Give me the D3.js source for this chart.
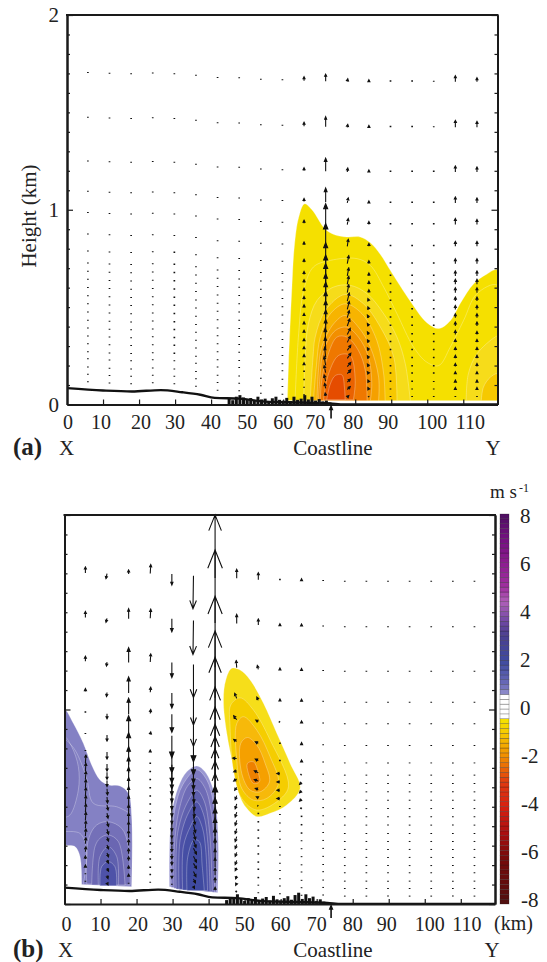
<!DOCTYPE html>
<html>
<head>
<meta charset="utf-8">
<title>Wind section</title>
<script src="https://cdn.jsdelivr.net/npm/d3@7"></script>
<style>
body{margin:0;background:#fff;}
text{font-family:"Liberation Serif",serif;fill:#222;}
</style>
</head>
<body>
<svg id="chart" width="547" height="962"></svg>
<script>
// arrow columns (km along X-Y) and model levels (km)
const columnKm = [5.8,11.8,17.8,23.8,29.8,35.8,41.8,47.8,53.8,59.8,65.8,71.8,77.8,83.8,89.8,95.8,101.8,107.8,113.8];
const levelKm = [1.657,1.423,1.194,1.035,0.924,0.812,0.723,0.66,0.617,0.574,0.531,0.488,0.446,0.403,0.36,0.319,0.278,0.237,0.195,0.158,0.115,0.077,0.038];
const modelTop = 4;
const kmTicks = [0,10,20,30,40,50,60,70,80,90,100,110];
const heightMinor = [0.1,0.2,0.3,0.4,0.5,0.6,0.7,0.8,0.9,1.1,1.2,1.3,1.4,1.5,1.6,1.7,1.8,1.9];
const heightMajor = [0,1,2];

// terrain
const terrainKm = [0,10,18,26,32,37,41,48,55,65,73,77,119.5];
const terrainH = [0.084,0.072,0.067,0.074,0.063,0.05,0.034,0.03,0.015,0.01,0.005,0,0];
const canopyKm = [45,46,47,48,49,50,51,52,53,54,55,56,57,58,59,60,61,62,63,64,65,66,67,68,69,70,71,72,73];
const canopyA = [0.03,0.022,0.04,0.048,0.036,0.024,0.033,0.02,0.04,0.026,0.03,0.018,0.032,0.04,0.024,0.02,0.034,0.018,0.04,0.024,0.03,0.048,0.026,0.04,0.02,0.028,0.016,0.02,0.01];
const canopyB = [0.02,0.034,0.026,0.05,0.028,0.016,0.03,0.018,0.036,0.016,0.028,0.036,0.018,0.042,0.024,0.018,0.03,0.04,0.022,0.046,0.058,0.026,0.05,0.03,0.038,0.016,0.024,0.012,0.008];

// vertical and horizontal arrow components, one list per column
const wA = [
[1,1,1,1,1,1,1,1,1,1,1,1,1,1,1,1,1,1,1,1,1,1,1],
[1,1,1,1,1,1,1,1,1,1,1,1,1,1,1,1,1,1,1,1,1,1,1],
[1,1,1,1,1,1,1,1,1,1,1,1,1,1,1,1,1,1,1,1,1,1,1],
[1,1,1,1,1,1,1,1,1,1,1,1,1,1,1,1,1,1,1,1,1,1,1],
[1,1,1,1,1,1,1.5,1.5,1.5,1.5,1.5,1.5,1.5,1.5,1.5,1.5,1.5,1.5,1.5,1,1,1,1],
[1,1,1,1,1,1,1,1,1,1,1,1,1,1,1,1,1,1,1,1,1,1,1],
[1,1,1,1,1,1,1,1,1,1,1,1,1,1,1,1,1,1,1,1,1,1,1],
[1,1,1,1,1,1,1,1,1,1,1,1,1,1,1,1,1,1,1,1,1,1,1],
[1,1,1,1,1,1,1,1,1,1,1,1,1,1,1,1,1,1,1,1,1,1,1],
[1,1,1,1,1,1,1,1,1,1,1,1,1,1,1,1,1,1,1,1,1,1,1],
[4,4,3,3,3,3,3,3,3,3,3,3,2.5,2.5,2.5,2,2,2,2,1.5,1.5,1,1],
[7,10,13,14,20,22,20,20,20,18,18,17,16,15,14,13,12,10,9,7,6,5,3],
[3,3,4,5,6,7,8,8,8,8,8,8,7,7,6,6,5,5,4,4,3,3,1.5],
[2,2,2,2,3,3,3,3,3,3,2.5,2.5,2.5,2.5,2.5,2.5,2.5,2.5,2.5,2,2,2,1],
[1.5,1.5,1.5,1.5,1.5,1.5,1.5,1.5,1.5,1.5,1.5,1.5,1.5,1.5,1.5,1.5,1.5,1.5,1.5,1.5,1.5,1,1],
[1.5,1.5,1.5,1.5,1.5,1.5,1.5,1.5,1.5,1.5,1.5,1.5,1.5,1.5,1.5,1.5,1.5,1.5,1.5,1.5,1.5,1,1],
[1,1,1.5,1.5,1.5,1.5,1.5,1.5,1.5,1.5,1.5,1.5,1.5,1.5,1.5,1.5,1.5,1.5,1.5,1.5,1,1,1],
[6,7,6,6,6,5,5,5,5,5,4,4,4,4,4,3,3,3,3,2,2,2,1],
[4,6,5,5,5,5,5,5,5,5,4,4,4,4,3,3,3,3,3,2,2,2,1]
];
const uA = [
[0,0,0,0,0,0,0,0,0,0,0,0,0,0,0,0,0,0,0,0,0,0,0],
[0,0,0,0,0,0,0,0,0,0,0,0,0,0,0,0,0,0,0,0,0,0,0],
[0,0,0,0,0,0,0,0,0,0,0,0,0,0,0,0,0,0,0,0,0,0,0],
[0,0,0,0,0,0,0,0,0,0,0,0,0,0,0,0,0,0,0,0,0,0,0],
[0,0,0,0,0,0,0,0,0,0,0,0,0,0,0,0,0,0,0,0,0,0,0],
[0,0,0,0,0,0,0,0,0,0,0,0,0,0,0,0,0,0,0,0,0,0,0],
[0,0,0,0,0,0,0,0,0,0,0,0,0,0,0,0,0,0,0,0,0,0,0],
[0,0,0,0,0,0,0,0,0,0,0,0,0,0,0,0,0,0,0,0,0,0,0],
[0,0,0,0,0,0,0,0,0,0,0,0,0,0,0,0,0,0,0,0,0,0,0],
[0,0,0,0,0,0,0,0,0,0,0,0,0,0,0,0,0,0,0,0,0,0,0],
[0,0,0,0,0,0,0,0,0,0,0,0,0,0,0,0,0,0,0,0,0,0,0],
[0,0,0,0,0,0,0,0,0,0,0,0,0,0,0,-0.5,-0.5,-1,-1.5,-1.5,-1.5,-1,-0.5],
[0.5,0.5,0.5,1,1,1,1.5,1.5,1.5,1.5,2,2,2,2.5,3,3,3.5,3.5,3.5,3.5,3,3,1.5],
[0,0,0,0,0,0,0,0,0,0,-1,-1,-1.5,-1.5,-1.5,-1.5,-1.5,-1.5,-1.5,-1.5,-1,-1,-0.5],
[0,0,0,0,0,0,0,0,0,0,0,0,0,0,0,0,0,0,0,0,0,0,0],
[0,0,0,0,0,0,0,0,0,0,0,0,0,0,0,0,0,0,0,0,0,0,0],
[0,0,0,0,0,0,0,0,0,0,0,0,0,0,0,0,0,0,0,0,0,0,0],
[0,0,0,0,0,0,0,0,0,0,0,0,0,0,0,0,0,0,0,0,0,0,0],
[0,0,0,0,0,0,0,0,0,0,0,0,0,0,0,0,0,0,0,0,0,0,0]
];
const wB = [
[6,6,5,3,1.5,1,1,8,8,8,8,8,8,8,8,7,7,6,5,3,2,1,1],
[-5,-4,-4,-4,-5,-6,-7,-7,-7,-6,-6,-6,-5,-5,-5,-5,-4,-4,-4,-3,-3,-3,-2],
[4,10,15,16,16,20,20,18,16,14,12,11,10,9,9,8,7,6,5,4,3,2,1],
[9,9,8,5,4,3,2,1.5,1.5,1.5,1.5,1.5,1.5,1.5,1.5,1.5,1.5,1.5,1.5,1.5,1.5,1.5,1],
[-11,-13,-15,-15,-18,-22,-20,-18,-16,-14,-13,-12,-11,-10,-9,-8,-7,-6,-5,-4,-3,-2,-1],
[-33,-34,-33,-30,-30,-24,-20,-16,-14,-12,-11,-10,-9,-8,-8,-7,-7,-6,-6,-5,-5,-4,-2],
[63,73,71,67,62,54,51,46,42,38,34,30,26,22,20,18,16,13,11,9,7,5,3],
[9,9,7,5,4,2,0.5,-1,-2,-3,-4,-5,-5,-5,-5,-5,-4,-4,-4,-3,-3,-2,-1.5],
[7,6,4,3,1.5,1.5,1.5,2,1.5,1,1,0.5,1.5,1.5,1.5,1.5,1.5,1.5,1.5,1.5,1.5,1,1],
[1.5,2,2,2,1,1.5,1.5,0,0,0,0,1,1,1,1,1,1,1,1,1,1,1,1],
[2,2,2,2,2,2,2,-1,-2,-2,-2,-1.5,-1.5,-1.5,-1.5,-1,-1,-1,-1,-1,-1,-1,-1],
[1,1,1,1,1,1,1,1,1,1,1,1,1,1,1,1,1,1,1,1,1,1,1],
[1,1,1,1,1,1,1,1,1,1,1,1,1,1,1,1,1,1,1,1,1,1,1],
[1,1,1,1,1,1,1,1,1,1,1,1,1,1,1,1,1,1,1,1,1,1,1],
[1,1,1,1,1,1,1,1,1,1,1,1,1,1,1,1,1,1,1,1,1,1,1],
[1,1,1,1,1,1,1,1,1,1,1,1,1,1,1,1,1,1,1,1,1,1,1],
[1,1,1,1,1,1,1,1,1,1,1,1,1,1,1,1,1,1,1,1,1,1,1],
[1,1,1,1,1,1,1,1,1,1,1,1,1,1,1,1,1,1,1,1,1,1,1],
[1,1,1,1,1,1,1,1,1,1,1,1,1,1,1,1,1,1,1,1,1,1,1]
];
const uB = [
[0,0,0,0,0,0,0,0.5,0.5,0.5,0.5,0.5,0.5,0.5,0.5,0.5,0.5,0.5,0.5,0,0,0,0],
[-1,-1,-0.5,-0.5,0,0,0,0,0,0,0.5,0.5,1,1,1.5,1.5,1.5,1.5,1.5,1.5,1.5,1,1],
[0,0,0,0,0,0,0,0,0,0,0,0,0,0,0,0,0,0,0,0,0,0,0],
[0.5,0.5,0.5,0.5,0.5,0.5,0,0,0,0,0,0,0,0,0,0,0,0,0,0,0,0,0],
[0,0,0,0,0,0,0,0,0,0,0,0,0,0,0,0,0,0,0,0,0,0,0],
[-0.5,-0.5,0,0,0,0,0,0,0,0,0.5,1,1,1.5,2,2,2.5,3,3,3,2.5,2,1],
[0,0,0,0,0,0,0,0,0,0,0,0,0,0,0,0,0,0,0,0,0,0,0],
[0,0,-0.5,-2,-3,-3,-4,-3,-3,-2,-1.5,-1.5,-1.5,-1.5,-1.5,-1.5,-1.5,-1.5,-1.5,-1.5,-1,-1,-1],
[0,0,-1,-1.5,-2.5,-3,-3,-4,-4,-3,-2,-1,0,0,0,0,0,0,0,0,0,0,0],
[0,0,0,0,-1,0,0,-3,-3,-3,-3,0,0,0,0,0,0,0,0,0,0,0,0],
[0,0,0,0,0,0,0,-1,-2,-2,-2,-1,0,0,0,0,0,0,0,0,0,0,0],
[0,0,0,0,0,0,0,0,0,0,0,0,0,0,0,0,0,0,0,0,0,0,0],
[0,0,0,0,0,0,0,0,0,0,0,0,0,0,0,0,0,0,0,0,0,0,0],
[0,0,0,0,0,0,0,0,0,0,0,0,0,0,0,0,0,0,0,0,0,0,0],
[0,0,0,0,0,0,0,0,0,0,0,0,0,0,0,0,0,0,0,0,0,0,0],
[0,0,0,0,0,0,0,0,0,0,0,0,0,0,0,0,0,0,0,0,0,0,0],
[0,0,0,0,0,0,0,0,0,0,0,0,0,0,0,0,0,0,0,0,0,0,0],
[0,0,0,0,0,0,0,0,0,0,0,0,0,0,0,0,0,0,0,0,0,0,0],
[0,0,0,0,0,0,0,0,0,0,0,0,0,0,0,0,0,0,0,0,0,0,0]
];

// shaded contours as [km, height km] outlines, painted in this order
const shadeA = [
{c:"#f5e000",p:[[61.2,.02],[61.5,.21],[62.4,.59],[63.1,.81],[64.3,.96],[65.9,1.03],[68,1.0],[71.7,.90],[74.5,.87],[77.7,.86],[81.4,.86],[84.2,.83],[87,.77],[89.7,.69],[95.3,.53],[99.9,.42],[103.2,.39],[106.4,.43],[109.2,.52],[112.9,.62],[116.6,.67],[119.5,.69],[119.5,.02]]},
{c:"#f5e000",p:[[63.3,.02],[64.3,.363],[65.7,.586],[68.4,.706],[73.1,.74],[80.5,.749],[84.2,.714],[87.9,.603],[91.6,.466],[96.2,.295],[99.9,.217],[103.2,.2],[106.4,.295],[110.1,.432],[113.8,.569],[119.5,.612],[119.5,.02]]},
{c:"#f6dc1a",p:[[65.7,.02],[66.1,.243],[67,.414],[69.4,.534],[74,.603],[78.6,.612],[83.3,.569],[87.9,.466],[91.6,.346],[93.9,.209],[95.3,.02]]},
{c:"#f6dc1a",p:[[110.8,.02],[111.4,.157],[113.8,.26],[118.8,.346],[119.5,.35],[119.5,.02]]},
{c:"#f6c900",p:[[115,.02],[115.6,.089],[117.5,.14],[119.5,.157],[119.5,.02]]},
{c:"#f7c800",p:[[67.5,.02],[68.3,.243],[68.9,.346],[71.7,.483],[77.2,.565],[82.3,.517],[87,.397],[90.7,.243],[91.6,.02]]},
{c:"#f7b400",p:[[68.4,.02],[69.2,.192],[70.3,.346],[73.1,.466],[77.2,.517],[81.9,.466],[86,.329],[87.9,.157],[88.3,.02]]},
{c:"#f5a000",p:[[69.4,.02],[69.8,.175],[70.7,.295],[74,.414],[77.2,.457],[80.9,.397],[84.2,.295],[86.5,.14],[86.5,.02]]},
{c:"#f28f00",p:[[69.8,.02],[70.3,.157],[71.2,.277],[74.5,.38],[77.7,.397],[80.9,.346],[83.7,.243],[84.6,.106],[84.2,.02]]},
{c:"#ef7800",p:[[70.3,.02],[70.7,.123],[71.7,.209],[74.9,.346],[77.7,.346],[80.9,.277],[82.8,.175],[83.3,.02]]},
{c:"#ea6200",p:[[71.2,.024],[72.6,.157],[75.4,.252],[78.6,.252],[80,.123],[79.5,.024]]},
{c:"#e54c00",p:[[72.1,.024],[73.1,.106],[74.5,.149],[76.3,.152],[77,.089],[77.2,.024]]}
];
const shadeB = [
{c:"#8481c4",p:[[4.77,.10],[4.3,.244],[2.91,.295],[0,.31],[-1,.65],[0,1.0],[2.45,.929],[5.23,.826],[7.54,.715],[9.86,.638],[12.17,.612],[15.41,.607],[17.73,.569],[18.65,.449],[18.65,.089]]},
{c:"#7a76bc",closed:true,p:[[-1,.65],[0,.86],[1.99,.809],[3.84,.706],[3.84,.586],[1.53,.458],[0,.449]]},
{c:"#7470b8",p:[[6.16,.103],[6.62,.329],[8.93,.406],[12.17,.423],[15.88,.389],[17.73,.295],[18.2,.098]]},
{c:"#6a66b2",p:[[7.54,.098],[8.47,.295],[9.86,.338],[12.17,.355],[14.95,.321],[16.8,.098]]},
{c:"#5f60ae",p:[[9.4,.098],[9.86,.244],[12.17,.295],[14.49,.244],[14.95,.098]]},
{c:"#4e52a8",p:[[9.86,.094],[10.32,.192],[12.17,.218],[14,.192],[14.49,.094]]},
{c:"#9a98d2",p:[[29.12,.089],[29.12,.261],[29.77,.466],[31.62,.603],[33.93,.68],[36.71,.71],[39.03,.68],[41.34,.586],[42.27,.466],[42.73,.278],[42.55,.058]]},
{c:"#7e7ac0",p:[[29.6,.086],[29.7,.278],[30.6,.483],[32.8,.612],[36.71,.69],[39.49,.638],[41.34,.518],[42.2,.278],[42.2,.06]]},
{c:"#6e6bb6",p:[[30.4,.081],[30.5,.295],[31.8,.483],[34.12,.605],[36.71,.645],[39.03,.595],[40.8,.466],[41.6,.278],[41.6,.06]]},
{c:"#5f60ae",p:[[31,.077],[31.4,.363],[34,.518],[36.71,.585],[38.75,.53],[40.3,.363],[41,.064]]},
{c:"#4e52a8",p:[[31.8,.076],[32.1,.329],[34.4,.468],[36.71,.525],[38.6,.46],[39.8,.312],[40.4,.064]]},
{c:"#454ea4",p:[[32.8,.072],[33,.295],[35,.4],[36.71,.45],[38.3,.39],[39.2,.278],[39.7,.069]]},
{c:"#3f4aa0",p:[[34,.069],[34.2,.24],[36,.33],[37.45,.32],[38.2,.2],[38.8,.069]]},
{c:"#f6de1a",closed:true,p:[[44.77,1.152],[46.43,1.212],[48.75,1.203],[51.53,1.152],[55.23,1.032],[58.93,.878],[62.64,.723],[65.41,.595],[61.71,.509],[57.08,.466],[53.38,.449],[50.6,.492],[48.75,.552],[46.9,.706],[45.04,.878],[44.12,1.049]]},
{c:"#f5cd00",closed:true,p:[[46.15,1.023],[48.75,1.06],[52.45,.997],[57.08,.843],[62.17,.603],[58.93,.526],[53.38,.483],[49.21,.543],[46.9,.688],[45.97,.911]]},
{c:"#f7b90a",closed:true,p:[[47.82,.928],[49.67,.963],[53.38,.894],[57.08,.757],[59.39,.62],[56.15,.543],[52.45,.534],[49.21,.594],[47.82,.74]]},
{c:"#f5a000",closed:true,p:[[48.93,.826],[50.78,.856],[53.38,.817],[55.69,.723],[56.89,.628],[54.3,.577],[51.52,.586],[49.21,.671]]},
{c:"#ee8000",closed:true,p:[[50.78,.723],[52.45,.731],[53.84,.671],[54.12,.628],[52.45,.62],[51.06,.671]]}
];
const blueLinesB = [
[[0,.852],[2.91,.792],[6.16,.646],[8,.518],[14.5,.5],[18.2,.466]],
[[0,.372],[4.3,.363],[6.16,.278],[5.2,.101]]
];

// colour bar
const barValues = [8,7,6,5,4.4,3.6,3,2,1,0.7,0.61,-0.41,-0.5,-1,-2,-3,-4,-5,-6,-8];
const barColors = ["#4c1060","#741080","#8c1c90","#a030a0","#b060b8","#7048a4","#4a3f90","#3f4a9f","#6a6ab8","#8a88c8","#ffffff","#ffffff","#f5e000","#f6c800","#f08a00","#e03a10","#d8200f","#b01010","#7a0a0a","#501010"];
const barTicks = [8,6,4,2,0,-2,-4,-6,-8];

const svg = d3.select("#chart");
const arrowLen = d3.scaleLinear().domain([0,1]).range([0,1]);
const barColor = d3.scaleLinear().domain(barValues).range(barColors);
const terrainAt = d3.scaleLinear().domain(terrainKm).range(terrainH);

function drawArrow(ctx,x0,y0,x1,y1){
    let dx = x1-x0, dy = y1-y0;
    let len = Math.sqrt(dx*dx+dy*dy);
    ctx.moveTo(x0,y0);
    ctx.lineTo(x1,y1);
    if(len<2) return;
    let hl = Math.max(2,len*0.25), hw = Math.max(1,len*0.1);
    let ux = dx/len, uy = dy/len;
    ctx.moveTo(x1-ux*hl-uy*hw,y1-uy*hl+ux*hw);
    ctx.lineTo(x1,y1);
    ctx.lineTo(x1-ux*hl+uy*hw,y1-uy*hl-ux*hw);
    if(len<28) ctx.closePath();
}
function arrowSize(d){
    return Math.sqrt(d.u*d.u+d.w*d.w);
}

function drawPanel(opt){
    let x = d3.scaleLinear().domain([0,119.5]).range(opt.xr);
    let y = d3.scaleLinear().domain([0,2]).range(opt.yr);
    let g = svg.append("g");
    let clipId = "clip"+opt.name;
    g.append("clipPath").attr("id",clipId).append("rect")
     .attr("x",opt.xr[0]).attr("y",opt.yr[1]-2)
     .attr("width",opt.xr[1]-opt.xr[0]).attr("height",opt.yr[0]-opt.yr[1]+2);
    let plot = g.append("g").attr("clip-path","url(#"+clipId+")");

    let line = d3.line().x(d=>x(d[0])).y(d=>y(d[1]));
    plot.selectAll("path.shade").data(opt.shade).join("path")
        .attr("class","shade")
        .attr("fill",d=>d.c)
        .attr("stroke","rgba(255,255,255,0.4)")
        .attr("stroke-width",0.7)
        .attr("d",d=>{
            if(d.closed) return line.curve(d3.curveCatmullRomClosed)(d.p);
            return line.curve(d3.curveCatmullRom)(d.p)+"Z";
        });
    plot.selectAll("path.cline").data(opt.lines).join("path")
        .attr("class","cline")
        .attr("fill","none")
        .attr("stroke","rgba(255,255,255,0.4)")
        .attr("stroke-width",0.7)
        .attr("d",d=>line.curve(d3.curveCatmullRom)(d));

    // canopy bars and terrain line
    plot.selectAll("rect.canopy").data(opt.canopy).join("rect")
        .attr("class","canopy")
        .attr("x",(d,i)=>x(canopyKm[i])-1.5)
        .attr("y",d=>y(d))
        .attr("width",3)
        .attr("height",d=>y(0)-y(d))
        .attr("fill","#111");
    let terrainPts = terrainKm.map((k,i)=>[k,terrainH[i]]);
    plot.append("path")
        .attr("fill","none").attr("stroke","#111").attr("stroke-width",2.4)
        .attr("d",line.curve(d3.curveMonotoneX)(terrainPts));

    // wind arrows on terrain following levels
    let vectors = [];
    columnKm.forEach((k,c)=>{
        let t = terrainAt(k);
        levelKm.forEach((l,r)=>{
            vectors.push({x:k,h:t+l*(1-t/modelTop),u:opt.u[c][r],w:opt.w[c][r]});
        });
    });
    plot.append("g").selectAll("path").data(vectors).join("path")
        .attr("fill",d=>arrowSize(d)<28?"#111":"none")
        .attr("stroke","#111")
        .attr("stroke-width",d=>arrowSize(d)<2?1.7:1.1)
        .attr("d",d=>{
            let p = d3.path();
            let x0 = x(d.x), y0 = y(d.h);
            drawArrow(p,x0,y0,x0+arrowLen(d.u),y0-arrowLen(d.w));
            return p.toString();
        });

    // frame
    let xAxis = d3.axisBottom(x).tickValues(kmTicks.slice(1)).tickSizeInner(-5).tickSizeOuter(0).tickFormat("");
    let leftMinor = d3.axisLeft(y).tickValues(heightMinor).tickSizeInner(-3).tickSizeOuter(0).tickFormat("");
    let leftMajor = d3.axisLeft(y).tickValues(heightMajor).tickSizeInner(-6).tickSizeOuter(0).tickFormat("");
    let rightMinor = d3.axisRight(y).tickValues(heightMinor).tickSizeInner(-3).tickSizeOuter(0).tickFormat("");
    let rightMajor = d3.axisRight(y).tickValues(heightMajor).tickSizeInner(-6).tickSizeOuter(0).tickFormat("");
    let axes = [
        [xAxis,0,opt.yr[0]],[leftMinor,opt.xr[0],0],[leftMajor,opt.xr[0],0],
        [rightMinor,opt.xr[1],0],[rightMajor,opt.xr[1],0]
    ];
    axes.forEach(a=>{
        let ag = g.append("g").attr("transform","translate("+a[1]+","+a[2]+")").call(a[0]);
        ag.selectAll(".domain").attr("stroke","#1a1a1a").attr("stroke-width",2);
        ag.selectAll("line").attr("stroke","#1a1a1a").attr("stroke-width",1.2);
    });
    g.append("line").attr("x1",opt.xr[0]-1).attr("x2",opt.xr[1]+1)
     .attr("y1",opt.yr[1]).attr("y2",opt.yr[1])
     .attr("stroke","#1a1a1a").attr("stroke-width",2);

    // km labels
    g.selectAll("text.km").data(kmTicks).join("text")
     .attr("class","km")
     .attr("x",(d,i)=>x(d)+opt.labelShift[i])
     .attr("y",opt.labelY)
     .attr("text-anchor","middle")
     .attr("font-size",20)
     .text(d=>d);

    // coastline arrow
    let coast = d3.path();
    drawArrow(coast,x(opt.coast),opt.yr[0]+14,x(opt.coast),opt.yr[0]+2);
    g.append("path").attr("d",coast.toString()).attr("fill","#111").attr("stroke","#111").attr("stroke-width",1.6);

    let rowY = opt.labelY+26;
    g.append("text").attr("x",opt.tag[0]).attr("y",rowY).attr("font-size",25).attr("font-weight","bold").text(opt.tag[1]);
    g.append("text").attr("x",opt.xMark).attr("y",rowY).attr("font-size",21).text("X");
    g.append("text").attr("x",333).attr("y",rowY).attr("text-anchor","middle").attr("font-size",21).text("Coastline");
    g.append("text").attr("x",opt.yMark).attr("y",rowY).attr("text-anchor","middle").attr("font-size",21).text("Y");
    return {x:x,y:y,g:g};
}

let panelA = drawPanel({
    name:"a",xr:[67,497.5],yr:[404.5,15],shade:shadeA,lines:[],canopy:canopyA,u:uA,w:wA,coast:73.3,
    labelY:429,labelShift:[1,-2,2,0,0,0,0,-4,-2,-3,5,7],tag:[13,"(a)"],xMark:59,yMark:493
});
let panelB = drawPanel({
    name:"b",xr:[64.5,495],yr:[904,515],shade:shadeB,lines:blueLinesB,canopy:canopyB,u:uB,w:wB,coast:74,
    labelY:931,labelShift:[2,0,1.5,0,0,0,0,0,0,-2,5,6],tag:[13,"(b)"],xMark:58,yMark:492
});

// height axis labels
panelA.g.selectAll("text.hlab").data(heightMajor).join("text")
    .attr("class","hlab")
    .attr("x",59).attr("y",d=>panelA.y(d)+7)
    .attr("text-anchor","end").attr("font-size",21).text(d=>d);
svg.append("text").attr("transform","translate(36,216) rotate(-90)")
    .attr("text-anchor","middle").attr("font-size",21).text("Height (km)");

// colour bar cells
let barY = d3.scaleLinear().domain([-8,8]).range([904,514]);
let barLabelY = d3.scaleLinear().domain([-8,8]).range([900,516]);
let cellStep = 0.2;
let cells = d3.range(80).map(i=>-8+i*cellStep);
let barG = svg.append("g");
barG.selectAll("rect").data(cells).join("rect")
    .attr("x",500).attr("width",9)
    .attr("y",d=>barY(d+cellStep))
    .attr("height",d=>barY(d)-barY(d+cellStep))
    .attr("fill",d=>barColor(d+cellStep/2))
    .attr("stroke","#222").attr("stroke-opacity",0.55).attr("stroke-width",0.5);
barG.selectAll("text").data(barTicks).join("text")
    .attr("x",d=>d<0?521:520).attr("y",d=>barLabelY(d)+7)
    .attr("font-size",21).text(d=>d);
let unit = svg.append("text").attr("x",490).attr("y",498).attr("font-size",19).text("m s");
unit.append("tspan").attr("dx",2).attr("dy",-6).attr("font-size",12).text("-1");
svg.append("text").attr("x",494).attr("y",930).attr("font-size",20).text("(km)");
</script>
</body>
</html>
